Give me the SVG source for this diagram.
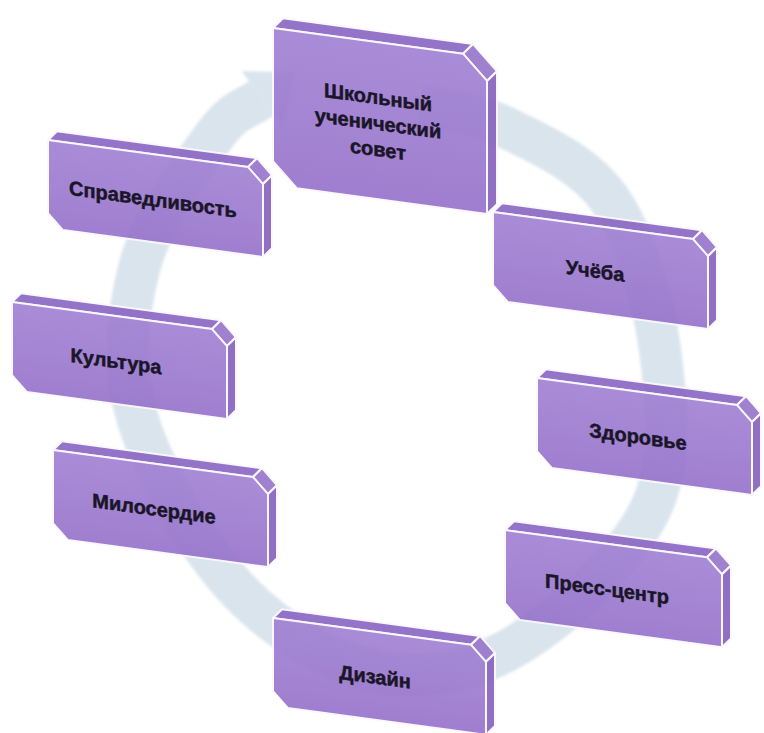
<svg xmlns="http://www.w3.org/2000/svg" width="764" height="733" viewBox="0 0 764 733">
<style>
.front{fill:url(#gFront);stroke:#fbf7ff;stroke-width:2;stroke-linejoin:round;opacity:0.9}
.top{fill:#8c69c4;stroke:#fbf7ff;stroke-width:2;stroke-linejoin:round;opacity:0.92}
.bevel{fill:#9877cb;stroke:#fbf7ff;stroke-width:2;stroke-linejoin:round;opacity:0.92}
.side{fill:#8864bf;stroke:#fbf7ff;stroke-width:2;stroke-linejoin:round;opacity:0.92}
.lbl{font-family:"Liberation Sans",Arial,sans-serif;font-weight:bold;font-size:20px;fill:#1a1528;stroke:#1a1528;stroke-width:0.5;text-anchor:middle}
</style>
<defs>
<linearGradient id="gFront" x1="0" y1="0" x2="0" y2="1">
<stop offset="0" stop-color="#a080d3"/>
<stop offset="0.5" stop-color="#9b79d0"/>
<stop offset="1" stop-color="#9571ca"/>
</linearGradient>
<filter id="soft" x="-5%" y="-5%" width="110%" height="110%">
<feGaussianBlur stdDeviation="1.5"/>
</filter>
</defs>
<rect width="764" height="733" fill="#ffffff"/>
<g id="connectors" filter="url(#soft)">
<path d="M420,106 C449.5,111.5 475.3,112.3 507,128 C538.7,143.7 584.5,163 610,200 C635.5,237 653.3,298.3 660,350 C666.7,401.7 673.8,460.8 650,510 C626.2,559.2 562,618 517,645 C472,672 426.2,680.8 380,672 C333.8,663.2 280.3,634 240,592 C199.7,550 154.7,474.5 138,420 C121.3,365.5 127.2,312.5 140,265 C152.8,217.5 194.7,162.8 215,135 C235.3,107.2 247.8,108.8 262,98" fill="none" stroke="#d9e4ed" stroke-width="42"/>
<polygon points="241.4,71 295.4,72.6 282.6,125" fill="#d9e4ed"/>
</g>
<g id="node-sovet" transform="translate(273,28) skewY(7.7)">
<polygon class="top" points="0,0 190,0 200,-11 10,-11"/>
<polygon class="bevel" points="190,0 214,24 224,13 200,-11"/>
<polygon class="side" points="214,24 214,157 224,146 224,13"/>
<polygon class="front" points="0,0 190,0 214,24 214,157 24,157 0,133"/>
<text class="lbl" x="105" y="62">Школьный</text>
<text class="lbl" x="105" y="88">ученический</text>
<text class="lbl" x="105" y="114">совет</text>
</g>
<g id="node-spravedlivost" transform="translate(48,140) skewY(7.7)">
<polygon class="top" points="0,0 200,0 209,-10 9,-10"/>
<polygon class="bevel" points="200,0 215,15 224,5 209,-10"/>
<polygon class="side" points="215,15 215,88 224,78 224,5"/>
<polygon class="front" points="0,0 200,0 215,15 215,88 15,88 0,73"/>
<text class="lbl" x="105" y="52">Справедливость</text>
</g>
<g id="node-ucheba" transform="translate(493,212) skewY(7.7)">
<polygon class="top" points="0,0 200,0 209,-10 9,-10"/>
<polygon class="bevel" points="200,0 215,15 224,5 209,-10"/>
<polygon class="side" points="215,15 215,88 224,78 224,5"/>
<polygon class="front" points="0,0 200,0 215,15 215,88 15,88 0,73"/>
<text class="lbl" x="102" y="52">Учёба</text>
</g>
<g id="node-kultura" transform="translate(12,302) skewY(7.7)">
<polygon class="top" points="0,0 200,0 209,-10 9,-10"/>
<polygon class="bevel" points="200,0 215,15 224,5 209,-10"/>
<polygon class="side" points="215,15 215,88 224,78 224,5"/>
<polygon class="front" points="0,0 200,0 215,15 215,88 15,88 0,73"/>
<text class="lbl" x="104" y="52">Культура</text>
</g>
<g id="node-miloserdie" transform="translate(53,450) skewY(7.7)">
<polygon class="top" points="0,0 200,0 209,-10 9,-10"/>
<polygon class="bevel" points="200,0 215,15 224,5 209,-10"/>
<polygon class="side" points="215,15 215,88 224,78 224,5"/>
<polygon class="front" points="0,0 200,0 215,15 215,88 15,88 0,73"/>
<text class="lbl" x="101" y="52">Милосердие</text>
</g>
<g id="node-zdorovie" transform="translate(537,378) skewY(7.7)">
<polygon class="top" points="0,0 200,0 209,-10 9,-10"/>
<polygon class="bevel" points="200,0 215,15 224,5 209,-10"/>
<polygon class="side" points="215,15 215,88 224,78 224,5"/>
<polygon class="front" points="0,0 200,0 215,15 215,88 15,88 0,73"/>
<text class="lbl" x="101" y="52">Здоровье</text>
</g>
<g id="node-press" transform="translate(505,530) skewY(7.7)">
<polygon class="top" points="0,0 202,0 211,-10 9,-10"/>
<polygon class="bevel" points="202,0 217,15 226,5 211,-10"/>
<polygon class="side" points="217,15 217,88 226,78 226,5"/>
<polygon class="front" points="0,0 202,0 217,15 217,88 15,88 0,73"/>
<text class="lbl" x="102" y="52">Пресс-центр</text>
</g>
<g id="node-dizain" transform="translate(273,618) skewY(7.7)">
<polygon class="top" points="0,0 198,0 207,-10 9,-10"/>
<polygon class="bevel" points="198,0 213,15 222,5 207,-10"/>
<polygon class="side" points="213,15 213,88 222,78 222,5"/>
<polygon class="front" points="0,0 198,0 213,15 213,88 15,88 0,73"/>
<text class="lbl" x="102" y="52">Дизайн</text>
</g>
</svg>
